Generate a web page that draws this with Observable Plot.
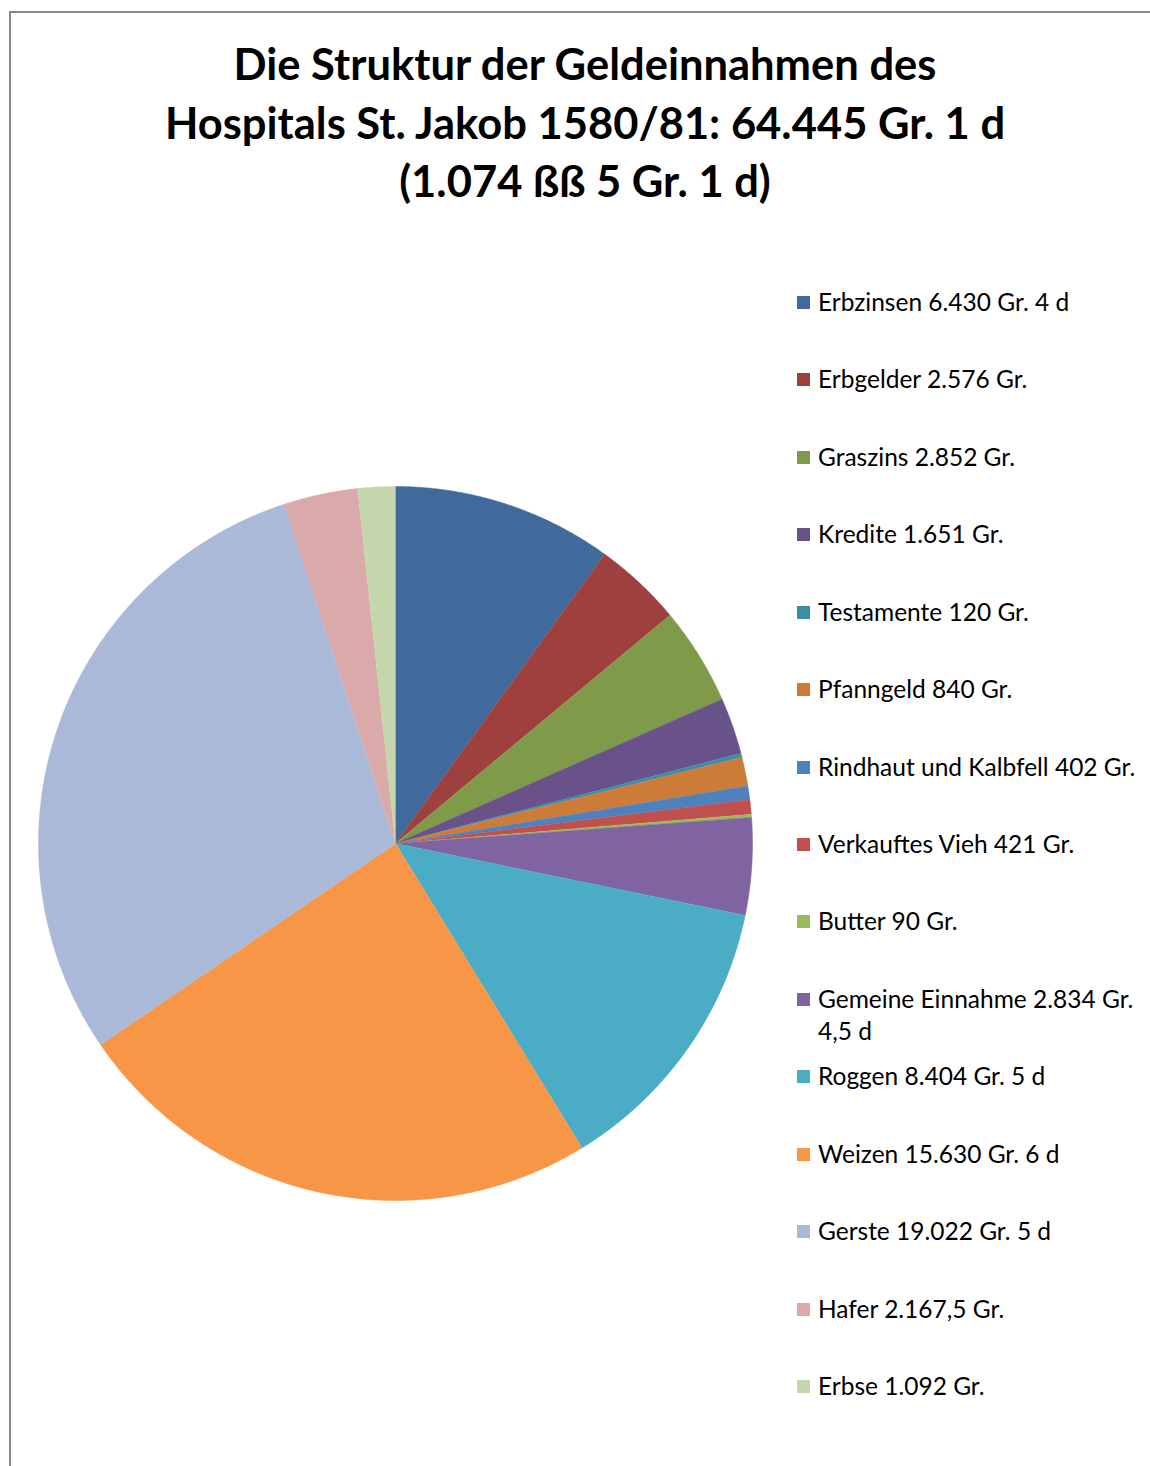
<!DOCTYPE html>
<html><head><meta charset="utf-8">
<script src="https://cdn.jsdelivr.net/npm/d3@7"></script>
<script src="https://cdn.jsdelivr.net/npm/@observablehq/plot@0.6"></script>
<style>
body{margin:0;background:#fff;}
#wrap{position:relative;width:1150px;height:1466px;overflow:hidden;font-family:Lato,"Open Sans",sans-serif;color:#000;}
#plot{position:absolute;left:0;top:0;}
#frame{position:absolute;left:9px;top:11px;width:1300px;height:1600px;border:2px solid #888;box-sizing:border-box;}
#title{position:absolute;left:0;width:1170px;top:34px;text-align:center;font-weight:bold;font-size:43.5px;line-height:58.5px;}
.leg{position:absolute;left:797px;font-size:24.5px;line-height:32px;white-space:nowrap;}
.leg .sw{position:absolute;left:0;top:10px;width:13px;height:13px;}
.leg .tx{position:absolute;left:21px;top:0;}
</style>
</head><body>
<div id="wrap">
  <div id="plot"></div>
  <div id="frame"></div>
  <div id="title">Die Struktur der Geldeinnahmen des<br>Hospitals St. Jakob 1580/81: 64.445 Gr. 1 d<br>(1.074 ßß 5 Gr. 1 d)</div>
  <div id="legend"></div>
</div>
<script>
const categories = ["Erbzinsen","Erbgelder","Graszins","Kredite","Testamente","Pfanngeld","Rindhaut und Kalbfell","Verkauftes Vieh","Butter","Gemeine Einnahme","Roggen","Weizen","Gerste","Hafer","Erbse"];
const groschen = [6430,2576,2852,1651,120,840,402,421,90,2834,8404,15630,19022,2167.5,1092];
const pfennig = [4,0,0,0,0,0,0,0,0,4.5,5,6,5,0,0];
const legendLabels = ["Erbzinsen 6.430 Gr. 4 d","Erbgelder 2.576 Gr.","Graszins 2.852 Gr.","Kredite 1.651 Gr.","Testamente 120 Gr.","Pfanngeld 840 Gr.","Rindhaut und Kalbfell 402 Gr.","Verkauftes Vieh 421 Gr.","Butter 90 Gr.","Gemeine Einnahme 2.834 Gr.\n4,5 d","Roggen 8.404 Gr. 5 d","Weizen 15.630 Gr. 6 d","Gerste 19.022 Gr. 5 d","Hafer 2.167,5 Gr.","Erbse 1.092 Gr."];
const colors = ["#406a9c","#9e413e","#7f9a48","#69518a","#3a8fa8","#cc7b38","#4f81bd","#c0504d","#9bbb59","#8064a2","#4bacc6","#f79646","#aab9d7","#d9aaa9","#c6d6ac"];

const rows = categories.map((name,i)=>({name, value: groschen[i] + pfennig[i]/12}));
const arcs = d3.pie().sort(null).value(d=>d.value)(rows);
const pts = [];
for (const a of arcs) {
  const name = a.data.name;
  pts.push({name, x:0, y:0});
  const n = Math.max(2, Math.ceil((a.endAngle - a.startAngle) / 0.005));
  for (let k=0;k<=n;k++){
    const t = a.startAngle + (a.endAngle - a.startAngle)*k/n;
    pts.push({name, x:Math.sin(t), y:Math.cos(t)});
  }
}

const chart = Plot.plot({
  width:1150, height:1466, margin:0,
  style:{background:"transparent"},
  x:{domain:[-1,1], range:[38,752], axis:null},
  y:{domain:[-1,1], range:[1200,486], axis:null},
  color:{domain:categories, range:colors},
  marks:[
    Plot.line(pts,{x:"x", y:"y", z:"name", fill:"name", stroke:"name", strokeWidth:0.5, curve:"linear"})
  ]
});
document.getElementById("plot").appendChild(chart);

const rowCenters = [302,379,457,534,612,689,767,844,921,999,1076,1154,1231,1309,1386];
const leg = document.getElementById("legend");
legendLabels.forEach((lab,i)=>{
  const d = document.createElement("div");
  d.className="leg";
  d.style.top = (rowCenters[i]-16)+"px";
  const sw = document.createElement("div"); sw.className="sw"; sw.style.background=colors[i];
  const tx = document.createElement("div"); tx.className="tx";
  lab.split("\n").forEach((s,j)=>{ if(j) tx.appendChild(document.createElement("br")); tx.appendChild(document.createTextNode(s)); });
  d.appendChild(sw); d.appendChild(tx);
  leg.appendChild(d);
});
</script>
</body></html>
